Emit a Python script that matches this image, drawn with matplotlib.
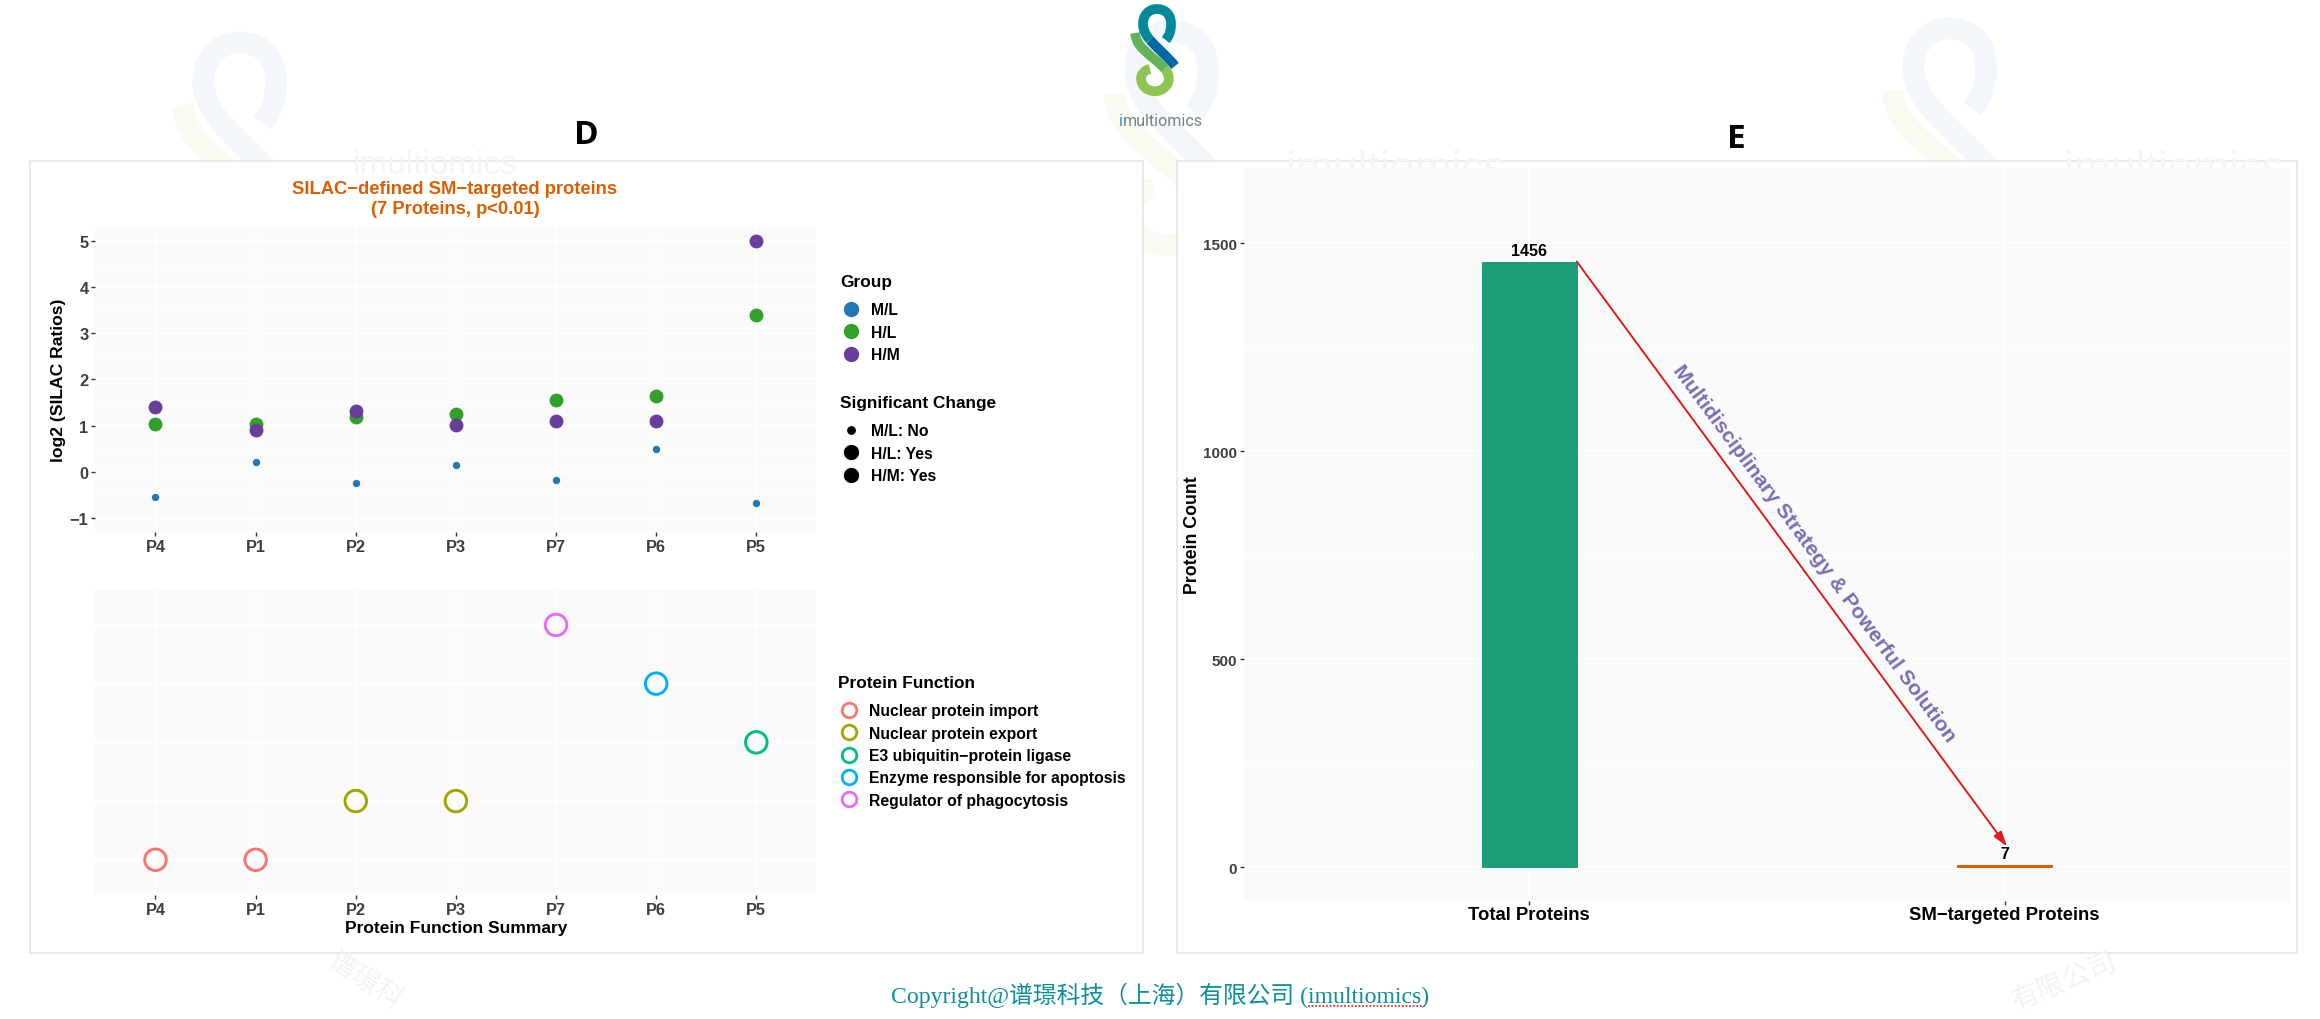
import matplotlib
matplotlib.use("Agg")
import matplotlib.pyplot as plt
from matplotlib.lines import Line2D
from matplotlib.patches import PathPatch, Rectangle
from matplotlib.path import Path

W, H = 2320, 1020
plt.rcParams['font.family'] = ['Liberation Sans', 'Noto Sans CJK SC']
plt.rcParams['font.weight'] = 'bold'

# Panel D data
proteins = ["P4", "P1", "P2", "P3", "P7", "P6", "P5"]
ml_ratio = [-0.54, 0.21, -0.245, 0.15, -0.17, 0.49, -0.67]
hl_ratio = [1.04, 1.04, 1.18, 1.25, 1.56, 1.64, 3.40]
hm_ratio = [1.40, 0.90, 1.31, 1.02, 1.09, 1.11, 5.00]
function_level = [1, 1, 2, 2, 5, 4, 3]
function_names = ["Nuclear protein import", "Nuclear protein export",
                  "E3 ubiquitin\u2212protein ligase",
                  "Enzyme responsible for apoptosis", "Regulator of phagocytosis"]
function_colors = ["#F8766D", "#A3A500", "#00BF7D", "#00B0F6", "#E76BF3"]

# Panel E data
bar_names = ["Total Proteins", "SM\u2212targeted Proteins"]
bar_counts = [1456, 7]
bar_colors = ["#1b9e77", "#d95f02"]

ML_COL, HL_COL, HM_COL = "#1f78b4", "#33a02c", "#6a3d9a"
TICK_COL = "#3f3f3f"
PANEL_COL = "#fafafa"
FRAME_COL = "#e2e5e5"


def px_axes(fig, left, top, right, bottom, **kw):
    return fig.add_axes([left / W, 1 - bottom / H, (right - left) / W, (bottom - top) / H], **kw)


def draw_logo(ax, dx, dy, k, colors, lw=7.2):
    # strands are in px around the logo centre
    strands = [
        ([(9.7, -10), (13, -14), (15, -18), (15, -26), (15, -36), (9, -41), (0.7, -41),
          (-7, -41), (-13, -35), (-13, -26), (-13, -20), (-10, -15), (-6, -10)], colors[0]),
        ([(-6, -10), (2, -1), (12, 7), (19, 16)], colors[1]),
        ([(-21, -17), (-20, -10), (-18, -6), (-13, -1), (-5, 7), (4, 13), (9, 19)], colors[2]),
        ([(9, 19), (14, 25), (14, 33), (9, 37), (4, 43), (-8, 43), (-13, 35),
          (-17, 29), (-15, 21), (-6, 19)], colors[3]),
    ]
    for pts, col in strands:
        verts = [(dx + k * x, dy + k * y) for x, y in pts]
        codes = [Path.MOVETO] + [Path.CURVE4] * (len(verts) - 1)
        ax.add_patch(PathPatch(Path(verts, codes), fc="none", ec=col, lw=lw * k,
                               capstyle="butt", zorder=1))


def style_axes(ax, tick_size):
    ax.set_facecolor(PANEL_COL)
    for s in ax.spines.values():
        s.set_visible(False)
    ax.grid(True, which="major", color="white", lw=1.3)
    ax.set_axisbelow(True)
    ax.tick_params(axis="both", length=3, width=1, color="#333333", labelcolor=TICK_COL,
                   labelsize=tick_size, pad=2)


fig = plt.figure(figsize=(W / 100, H / 100), dpi=100, facecolor="white")

# page layer: watermarks, frames, logo, captions in pixel coordinates
bg = fig.add_axes([0, 0, 1, 1], zorder=0)
bg.set_xlim(0, W)
bg.set_ylim(H, 0)
bg.axis("off")

wm_cols = ["#f3f7fb", "#f3f7fb", "#f9fbf2", "#f9fbf2"]
for cx, cy in [(237, 150), (1169, 139), (1947, 136)]:
    draw_logo(bg, cx, cy, 2.6, wm_cols, lw=6)
bg.text(435, 166, "imultiomics", color="#f5f5f5", fontsize=24, fontweight="normal", ha="center", va="center")
for cx in [1396, 2174]:
    bg.text(cx, 170, "imultiomics", color="#f5f5f5", fontsize=32, fontweight="normal", ha="center", va="center")
bg.text(365, 982, "谱璟科", color="#f3f3f3", fontsize=20, fontweight="normal", rotation=-33, ha="center", va="center")
bg.text(2065, 983, "有限公司", color="#f3f3f3", fontsize=20, fontweight="normal", rotation=22, ha="center", va="center")

bg.add_patch(Rectangle((29.5, 161.5), 1113, 792.5, fc="white", ec=FRAME_COL, lw=1.1, zorder=2))
bg.add_patch(Rectangle((1177, 161.5), 1119.5, 792.5, fc="white", ec=FRAME_COL, lw=1.1, zorder=2))

draw_logo(bg, 1156, 51, 1.0, ["#02899a", "#0068a5", "#62b357", "#8cc54f"], lw=7)
bg.text(1123, 122, "i", color="#2a8fd0", fontsize=11.5, fontweight="normal", family=["Roboto"],
        ha="right", va="center")
bg.text(1123, 122, "multiomics", color="#76848a", fontsize=11.5, fontweight="normal", family=["Roboto"],
        ha="left", va="center")

bg.text(586, 135, "D", fontsize=24, fontweight="bold", ha="center", va="center", color="black", family=["Open Sans"])
bg.text(1736, 140, "E", fontsize=24, fontweight="bold", ha="center", va="center", color="black", family=["Open Sans"])

bg.text(1160, 995, "Copyright@谱璟科技（上海）有限公司 (imultiomics)", color="#0b8f9b", fontsize=17.1,
        fontweight="normal", family=["Liberation Serif", "Noto Sans CJK SC"], ha="center", va="center")
bg.plot([1308, 1425], [1007, 1007], color="#e03030", lw=1.3, ls=(0, (1, 1)))

bg.text(455, 190, "SILAC\u2212defined SM\u2212targeted proteins", color="#d95f02", fontsize=13.2, ha="center", va="center")
bg.text(455, 210, "(7 Proteins, p<0.01)", color="#d95f02", fontsize=13.2, ha="center", va="center")

# top panel of D
ax1 = px_axes(fig, 95.4, 227.7, 816.4, 533, zorder=3)
style_axes(ax1, 11.8)
x = range(len(proteins))
ax1.scatter(x, ml_ratio, s=28, color=ML_COL, lw=0, zorder=3)
ax1.scatter(x, hl_ratio, s=100, color=HL_COL, lw=0, zorder=3)
ax1.scatter(x, hm_ratio, s=100, color=HM_COL, lw=0, zorder=4)
ax1.set_xlim(-0.6, 6.6)
ax1.set_ylim(-1.30, 5.30)
ax1.set_xticks(list(x), proteins)
ax1.set_yticks([-1, 0, 1, 2, 3, 4, 5], ["\u22121", "0", "1", "2", "3", "4", "5"])
ax1.set_yticks([-0.5, 0.5, 1.5, 2.5, 3.5, 4.5], minor=True)
ax1.grid(True, which="minor", axis="y", color="white", lw=0.7)
ax1.tick_params(which="minor", length=0)
ax1.set_ylabel("log2 (SILAC Ratios)", fontsize=12.6, fontweight="bold", color="black", va="center")
ax1.yaxis.set_label_coords(-0.051, 0.5)

# bottom panel of D
ax2 = px_axes(fig, 95.4, 590.7, 816.4, 896, zorder=3)
style_axes(ax2, 11.8)
for name, col, lev in zip(function_names, function_colors, range(1, 6)):
    xs = [i for i, v in enumerate(function_level) if v == lev]
    ys = [function_level[i] for i in xs]
    ax2.scatter(xs, ys, s=240, facecolor="none", edgecolor=col, lw=2.1, zorder=3)
ax2.set_xlim(-0.6, 6.6)
ax2.set_ylim(0.4, 5.6)
ax2.set_xticks(list(x), proteins)
ax2.set_yticks([1, 2, 3, 4, 5], [])
ax2.tick_params(axis="y", length=0)
ax2.set_xlabel("Protein Function Summary", fontsize=12.5, fontweight="bold", color="black", va="center")
ax2.xaxis.set_label_coords(0.5, -0.108)


# legends of D
def add_legend(handles, labels, title, x0, y0):
    leg = fig.legend(handles, labels, title=title, loc="upper left",
                     bbox_to_anchor=(x0 / W, 1 - y0 / H), frameon=False, fontsize=11.3,
                     title_fontsize=12.4, alignment="left", borderpad=0, borderaxespad=0,
                     labelspacing=0.47, handletextpad=0.57, handlelength=1.4)
    leg.set_zorder(5)
    leg.get_title().set_fontweight("bold")
    leg._legend_box.sep = 9.6  # gap between legend title and first row
    return leg


def dot(col, size, **kw):
    return Line2D([], [], ls="none", marker="o", ms=size, color=col, **kw)


add_legend([dot(ML_COL, 10), dot(HL_COL, 10), dot(HM_COL, 10)], ["M/L", "H/L", "H/M"], "Group", 840, 275)
add_legend([dot("black", 5.3), dot("black", 10), dot("black", 10)],
           ["M/L: No", "H/L: Yes", "H/M: Yes"], "Significant Change", 840, 396)
add_legend([dot(c, 10.5, mfc="none", mew=2.0) for c in function_colors], function_names,
           "Protein Function", 838, 676)

# panel E
ax3 = px_axes(fig, 1244, 169, 2290, 901.7, zorder=3)
style_axes(ax3, 11)
ax3.bar([0, 1], bar_counts, width=0.2, color=bar_colors, edgecolor=bar_colors, lw=0.7, zorder=3)
for i, v in enumerate(bar_counts):
    ax3.text(i, v + 8, str(v), ha="center", va="bottom", fontsize=11.5, color="black", zorder=5)
ax3.set_xlim(-0.6, 1.6)
ax3.set_ylim(-80, 1681)
ax3.set_xticks([0, 1], bar_names)
ax3.set_yticks([0, 500, 1000, 1500])
ax3.set_yticks([250, 750, 1250], minor=True)
ax3.grid(True, which="minor", axis="y", color="white", lw=0.7)
ax3.tick_params(which="minor", length=0)
ax3.tick_params(axis="x", labelsize=13.3, labelcolor="black", pad=1.1)
ax3.set_ylabel("Protein Count", fontsize=12.8, fontweight="bold", color="black", va="center")
ax3.yaxis.set_label_coords(-0.0497, 0.5)
ax3.annotate("", xy=(1.005, 50), xytext=(0.1, 1456),
             arrowprops=dict(arrowstyle="-|>,head_length=0.9,head_width=0.28", color="#e31a1c",
                             lw=1.4, shrinkA=0, shrinkB=0), zorder=4)
ax3.text(0.6, 757, "Multidisciplinary Strategy & Powerful Solution", color="#7570b3", fontsize=15.2,
         rotation=-53.6, rotation_mode="anchor", ha="center", va="center", zorder=4)

fig.savefig("out.png", dpi=100)
